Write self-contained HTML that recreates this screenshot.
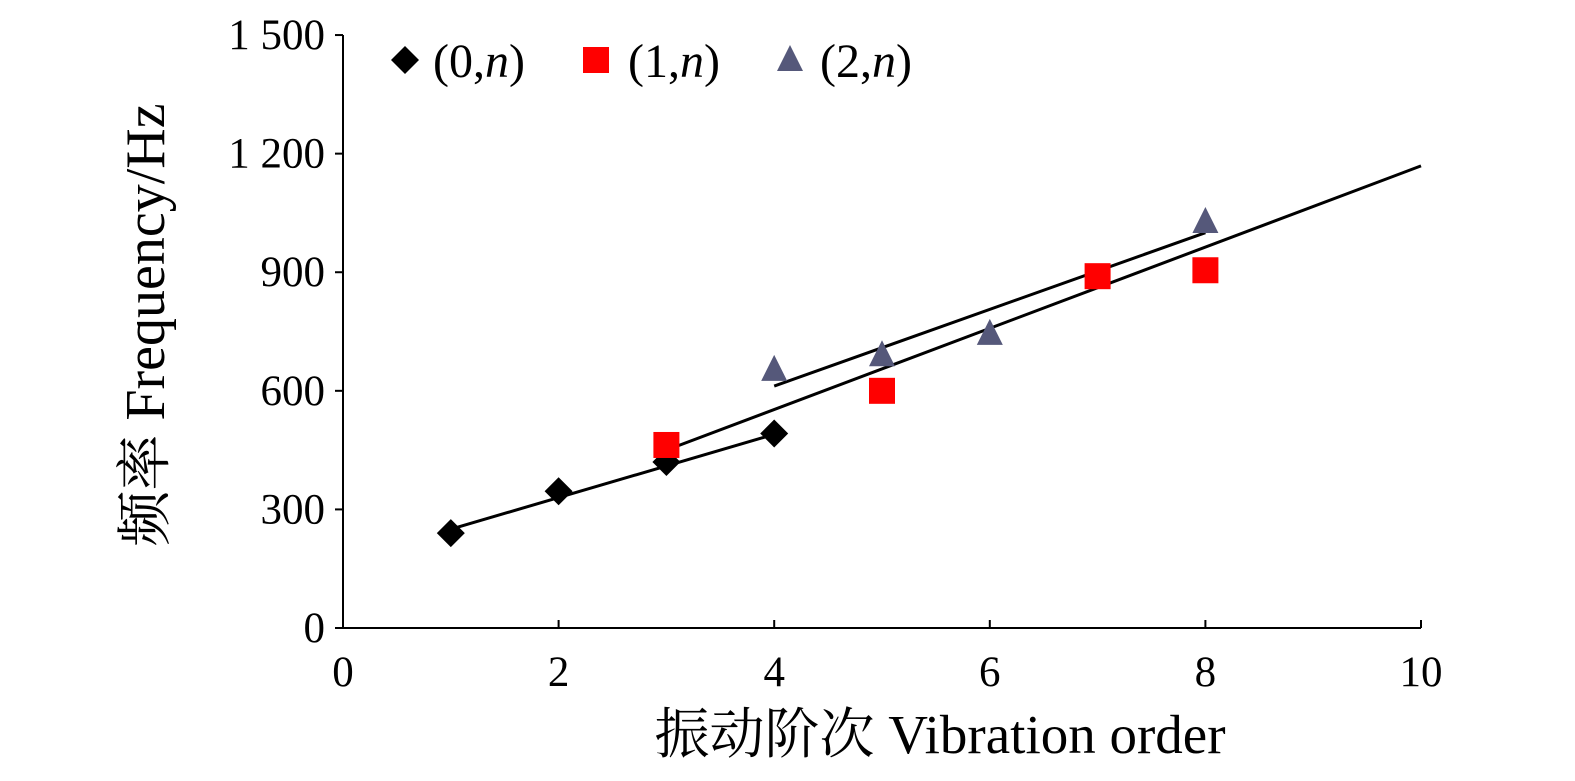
<!DOCTYPE html>
<html><head><meta charset="utf-8"><style>
html,body{margin:0;padding:0;background:#fff;}
svg text{font-family:"Liberation Serif","Noto Serif CJK SC",serif;fill:#000;}
</style></head><body>
<svg id="chart" width="1575" height="776" xmlns="http://www.w3.org/2000/svg">
<g id="axes"></g>
<g id="lines"></g>
<g id="marks"></g>
<g id="legend"></g>
<text transform="translate(164,325) rotate(-90)" text-anchor="middle" font-size="56">频率 Frequency/Hz</text>
<text x="940" y="753" text-anchor="middle" font-size="55">振动阶次 Vibration order</text>
</svg>
<script>
const xTicks=[0,2,4,6,8,10];
const yTicks=[0,300,600,900,1200,1500];
const yTickLabels=["0","300","600","900","1 200","1 500"];
const s0x=[1,2,3,4], s0y=[240,346,420,492];
const s1x=[3,5,7,8], s1y=[463,600,890,905];
const s2x=[4,5,6,8], s2y=[653,690,744,1027];
const fitX=[[1,4],[3,10],[4,8]];
const fitY=[[250,490],[450,1169],[612,1000]];
const NS="http://www.w3.org/2000/svg";
const X=v=>343+v*107.8, Y=v=>628-v*0.3953;
function mk(tag,attrs,parent){const e=document.createElementNS(NS,tag);for(const k in attrs)e.setAttribute(k,attrs[k]);parent.appendChild(e);return e;}
const ax=document.getElementById('axes');
let a=mk('line',{x1:X(0),y1:Y(0),x2:X(10),y2:Y(0),stroke:'#000','stroke-width':2},ax);


a=mk('line',{x1:X(0),y1:Y(0),x2:X(0),y2:Y(1500),stroke:'#000','stroke-width':2},ax);


xTicks.forEach(t=>{
 let l=mk('line',{x1:X(t),y1:Y(0),x2:X(t),y2:Y(0)-8,stroke:'#000','stroke-width':2},ax);
 
 
 let tx=mk('text',{x:X(t),y:Y(0)+58,'text-anchor':'middle','font-size':43},ax);tx.textContent=t;
 
 
});
yTicks.forEach((t,i)=>{
 let l=mk('line',{x1:X(0)-8,y1:Y(t),x2:X(0),y2:Y(t),stroke:'#000','stroke-width':2},ax);
 
 
 let tx=mk('text',{x:X(0)-18,y:Y(t)+14,'text-anchor':'end','font-size':43},ax);tx.textContent=yTickLabels[i];
 
 
});
const lg=document.getElementById('lines');
fitX.forEach((fx,i)=>{
 let l=mk('line',{x1:X(fx[0]),y1:Y(fitY[i][0]),x2:X(fx[1]),y2:Y(fitY[i][1]),stroke:'#000','stroke-width':3},lg);
 
 
});
const mg=document.getElementById('marks');
function diamond(cx,cy,p){return mk('polygon',{points:`${cx},${cy-14} ${cx+14},${cy} ${cx},${cy+14} ${cx-14},${cy}`,fill:'#000'},p);}
function square(cx,cy,p){return mk('rect',{x:cx-13,y:cy-13,width:26,height:26,fill:'#f00'},p);}
function tri(cx,cy,p){return mk('polygon',{points:`${cx},${cy-15} ${cx+13},${cy+11} ${cx-13},${cy+11}`,fill:'#55587a'},p);}
s0x.forEach((v,i)=>{const e=diamond(X(v),Y(s0y[i]),mg);
 
 });
s1x.forEach((v,i)=>{const e=square(X(v),Y(s1y[i]),mg);
 
 });
s2x.forEach((v,i)=>{const e=tri(X(v),Y(s2y[i]),mg);
 
 });
const leg=document.getElementById('legend');
const entries=[[diamond,405,433,'0'],[square,596,628,'1'],[tri,790,820,'2']];
entries.forEach(en=>{
 const g=mk('g',{},leg);
 
 
 en[0](en[1],60,g);
 const t=mk('text',{x:en[2],y:77,'font-size':48},g);
 t.innerHTML=`(${en[3]},<tspan font-style="italic">n</tspan>)`;
});
</script>
</body></html>
